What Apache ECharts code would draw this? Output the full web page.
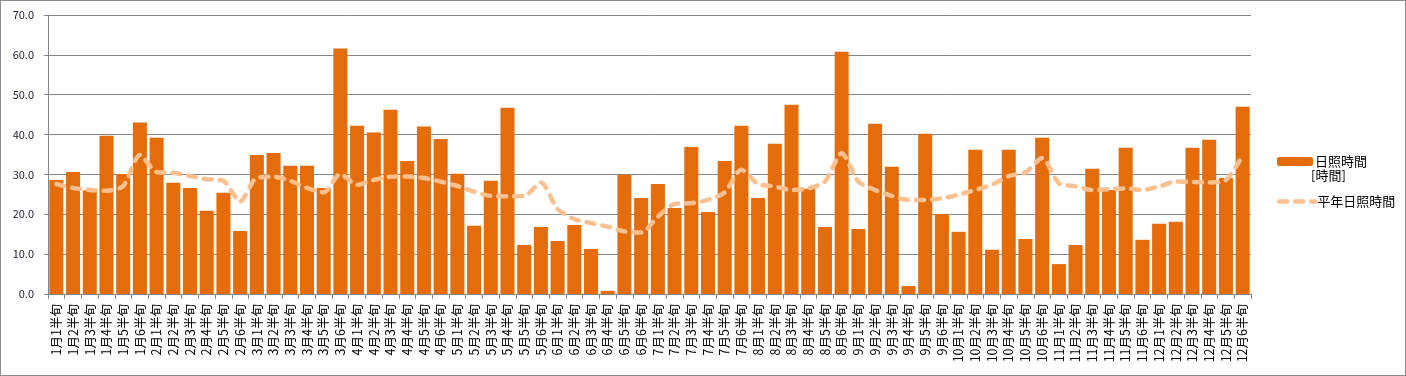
<!DOCTYPE html>
<html>
<head>
<meta charset="utf-8">
<script src="https://cdn.jsdelivr.net/npm/echarts@6/dist/echarts.min.js"></script>
<style>
  html, body { margin: 0; padding: 0; background: #fff; }
  #main { width: 1404px; height: 374px; border: 1px solid #8c8c8c; }
</style>
</head>
<body>
<div id="main"></div>
<script>
// 半旬ごとの日照時間
var months = [1,2,3,4,5,6,7,8,9,10,11,12];
var categories = [];
months.forEach(function (m) {
  for (var k = 1; k <= 6; k++) categories.push(m + '月' + k + '半旬');
});

var sunshine = [
  28.6, 30.6, 26.0, 39.7, 30.1, 43.0,
  39.2, 27.9, 26.6, 20.9, 25.4, 15.8,
  34.9, 35.4, 32.2, 32.2, 26.6, 61.6,
  42.2, 40.5, 46.2, 33.4, 42.0, 38.9,
  30.2, 17.1, 28.4, 46.7, 12.3, 16.8,
  13.3, 17.3, 11.3, 0.8, 29.9, 24.1,
  27.6, 21.6, 36.9, 20.6, 33.4, 42.2,
  24.1, 37.7, 47.5, 26.4, 16.8, 60.8,
  16.3, 42.7, 31.9, 2.0, 40.2, 20.1,
  15.6, 36.2, 11.1, 36.2, 13.8, 39.2,
  7.5, 12.3, 31.4, 26.1, 36.7, 13.6,
  17.6, 18.1, 36.7, 38.7, 29.1, 47.0
];

var normal = [
  27.6, 26.6, 26.1, 25.9, 27.1, 34.9,
  30.6, 30.4, 29.6, 28.8, 28.4, 23.2,
  29.2, 29.4, 28.4, 26.6, 25.5, 30.1,
  27.4, 28.6, 29.4, 29.5, 29.1, 28.2,
  27.1, 25.7, 24.6, 24.5, 24.6, 28.0,
  21.3, 18.8, 17.8, 16.9, 15.7, 15.4,
  19.4, 22.6, 22.8, 23.6, 25.5, 31.2,
  27.6, 27.0, 26.1, 26.5, 28.2, 35.3,
  28.2, 26.1, 24.6, 23.6, 23.6, 24.0,
  24.9, 26.1, 27.4, 29.6, 30.5, 34.1,
  27.8, 27.0, 26.1, 26.3, 26.5, 26.1,
  27.0, 28.2, 28.1, 28.0, 28.6, 34.7
];

var yTicks = [0, 10, 20, 30, 40, 50, 60, 70];

var barColor = '#e46c0a';
var lineColor = '#fac090';
var gridColor = '#868686';
var font = '"Noto Sans CJK JP", "Noto Sans", sans-serif';

var chart = echarts.init(document.getElementById('main'), null, { renderer: 'canvas' });

var option = {
  animation: false,
  textStyle: { fontFamily: font },
  grid: {
    left: 47,
    right: 154,
    top: 14,
    bottom: 81
  },
  legend: [
    {
      data: ['日照時間'],
      left: 1271,
      top: 149,
      orient: 'vertical',
      itemWidth: 36,
      itemHeight: 9,
      textStyle: { fontSize: 13, color: '#000', fontFamily: font, padding: [0, 0, 0, -3] }
    },
    {
      data: ['平年日照時間'],
      left: 1271,
      top: 189,
      itemWidth: 36,
      itemHeight: 14,
      itemStyle: { opacity: 0 },
      lineStyle: { color: lineColor, width: 4.5, type: [8, 8], cap: 'round' },
      textStyle: { fontSize: 13, color: '#000', fontFamily: font, padding: [0, 0, 0, -3] }
    }
  ],
  graphic: [
    {
      type: 'text',
      left: 1310,
      top: 168,
      style: { text: '[時間]', fontSize: 13, fill: '#000', fontFamily: font }
    }
  ],
  xAxis: {
    type: 'category',
    data: categories,
    axisLine: { lineStyle: { color: gridColor } },
    axisTick: { show: true, length: 5, lineStyle: { color: gridColor } },
    axisLabel: {
      interval: 0,
      rotate: 90,
      margin: 10,
      fontSize: 12.5,
      color: '#000',
      fontFamily: font
    },
    splitLine: { show: false }
  },
  yAxis: {
    type: 'value',
    min: yTicks[0],
    max: yTicks[yTicks.length - 1],
    interval: 10,
    axisLine: { show: true, lineStyle: { color: gridColor } },
    axisTick: { show: true, length: 4, lineStyle: { color: gridColor } },
    axisLabel: {
      margin: 14,
      fontSize: 11,
      color: '#1a1a2e',
      fontFamily: font,
      formatter: function (v) { return v.toFixed(1); }
    },
    splitLine: { show: true, lineStyle: { color: gridColor, width: 1 } }
  },
  series: [
    {
      name: '日照時間',
      type: 'bar',
      data: sunshine,
      barCategoryGap: '16%',
      itemStyle: { color: barColor }
    },
    {
      name: '平年日照時間',
      type: 'line',
      data: normal,
      smooth: 0.25,
      symbol: 'none',
      lineStyle: {
        color: lineColor,
        width: 4.5,
        type: [8, 8],
        cap: 'round',
        join: 'round'
      },
      itemStyle: { color: lineColor }
    }
  ]
};

chart.setOption(option);
</script>
</body>
</html>
